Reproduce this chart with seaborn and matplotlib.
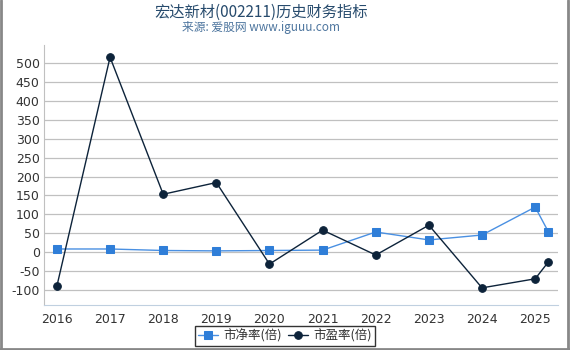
import matplotlib
matplotlib.use("Agg")
import matplotlib.pyplot as plt
import numpy as np
import pandas as pd
import seaborn as sns

years = [2016, 2017, 2018, 2019, 2020, 2021, 2022, 2023, 2024, 2025, 2025.25]
pb = [8, 8, 4, 3, 4, 5, 53, 32, 45, 119, 53]
pe = [-90, 516, 153, 184, -32, 58, -8, 71, -95, -71, -26]
year_ticks = [2016, 2017, 2018, 2019, 2020, 2021, 2022, 2023, 2024, 2025]

sns.set_style("white")
plt.rcParams['font.family'] = ['Noto Sans CJK SC', 'DejaVu Sans']

fig = plt.figure(figsize=(5.7, 3.5), dpi=100)
ax = fig.add_axes([0.077, 0.129, 0.902, 0.742])

df = pd.DataFrame({"year": years, "pb": pb, "pe": pe})
sns.lineplot(data=df, x="year", y="pb", ax=ax, color="#4a90e2", lw=1,
             marker="s", markersize=5.5, markerfacecolor="#2f7ed8",
             markeredgecolor="#2f7ed8", label="市净率(倍)", zorder=3)
sns.lineplot(data=df, x="year", y="pe", ax=ax, color="#0d233a", lw=1,
             marker="o", markersize=5.5, markerfacecolor="#0d233a",
             markeredgecolor="#0d233a", label="市盈率(倍)", zorder=4)

ax.set_xlim(2015.755, 2025.43)
ax.set_ylim(-140, 548)
ax.set_yticks(np.arange(-100, 501, 50))
ax.set_xticks(year_ticks)
ax.set_xticklabels([str(y) for y in year_ticks], family="DejaVu Sans")
ax.set_yticklabels([str(v) for v in np.arange(-100, 501, 50)], family="DejaVu Sans")
ax.grid(axis="y", color="#c0c0c0", lw=0.9)
ax.set_xlabel("")
ax.set_ylabel("")
ax.tick_params(axis="x", length=4, color="#c0d0e0", labelsize=9, labelcolor="#333333", pad=2)
ax.tick_params(axis="y", length=0, labelsize=9, labelcolor="#333333", pad=3)
for s in ["top", "right"]:
    ax.spines[s].set_visible(False)
ax.spines["left"].set_color("#c0c0c0")
ax.spines["bottom"].set_color("#c0d0e0")

leg = ax.legend(loc="center", bbox_to_anchor=(0.5, 0.04), bbox_transform=fig.transFigure,
                ncol=2, frameon=True, fontsize=9, handlelength=1.6, columnspacing=0.5,
                handletextpad=0.4, borderpad=0.25, borderaxespad=0, fancybox=False)
leg.get_frame().set_edgecolor("black")
leg.get_frame().set_linewidth(1)
for t in leg.get_texts():
    t.set_color("#333333")

fig.text(0.458, 0.966, "宏达新材(002211)历史财务指标", ha="center", va="center",
         fontsize=11, color="#274b6d")
fig.text(0.458, 0.92, "来源: 爱股网 www.iguuu.com", ha="center", va="center",
         fontsize=8.5, color="#4d759e")

# frame around the figure (left, right, bottom)
for xs, ys in [([0.002, 0.002], [0, 1]), ([0.997, 0.997], [0, 1]), ([0, 1], [0.004, 0.004])]:
    fig.add_artist(plt.Line2D(xs, ys, color="#888888", lw=2, transform=fig.transFigure))

fig.savefig("out.png", dpi=100)
